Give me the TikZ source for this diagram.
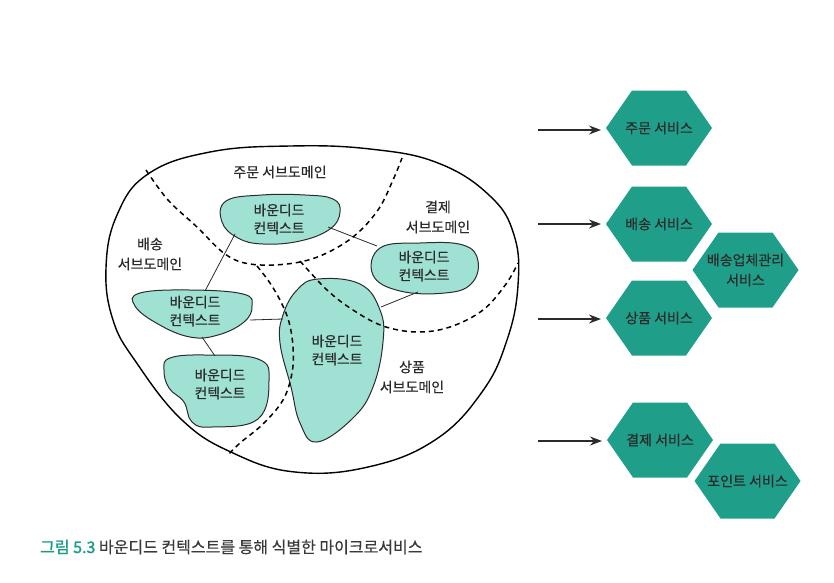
\documentclass[tikz,border=0pt]{standalone}
\usepackage{fontspec}
\setmainfont[FakeBold=0.5]{Noto Sans CJK KR}
\newfontfamily\krbold[FakeBold=1.5]{Noto Sans CJK KR}
\usetikzlibrary{arrows.meta}
\definecolor{ctxfill}{HTML}{9FE2D4}
\definecolor{svcfill}{HTML}{1F9E89}
\definecolor{ink}{HTML}{2B2B2B}
\definecolor{capteal}{HTML}{1A9C86}
\definecolor{capgray}{HTML}{3A3A3A}
\newcommand{\hexsvc}[4]{%
  \fill[svcfill] (#2-53,#3) -- (#2-27,#3-37.5) -- (#2+27,#3-37.5) -- (#2+53,#3) -- (#2+27,#3+37.5) -- (#2-27,#3+37.5) -- cycle;
  \coordinate (#1w) at (#2-53,#3);
  \node[svctext] (#1) at (#2,#3) {#4};}
\begin{document}
\begin{tikzpicture}[x=1pt,y=-1pt,
  outerline/.style={draw=black,line width=1.4pt},
  dashline/.style={draw=black,line width=1.5pt,dash pattern=on 5pt off 4pt},
  ctxshape/.style={fill=ctxfill,draw=ink,line width=1pt},
  ctxtext/.style={align=center,text=ink,font=\fontsize{13.8}{18}\selectfont,inner sep=0pt},
  sublabel/.style={align=center,text=ink,font=\fontsize{14}{20}\selectfont,inner sep=0pt},
  link/.style={draw=ink,line width=0.8pt},
  svctext/.style={align=center,text=ink,font=\fontsize{14}{20}\selectfont,inner sep=0pt},
  arr/.style={draw=ink,line width=1.1pt,-{Stealth[length=12pt,width=9pt]}}]
\useasboundingbox (0,0) rectangle (834,582);

% outer domain
\draw[outerline] plot[smooth cycle, tension=0.7] coordinates {(106,268) (117,215) (148,174) (210,152) (290,146) (370,149) (438,163) (490,196) (514,235) (518,285) (507,340) (482,392) (435,440) (368,467) (295,472) (233,453) (182,420) (136,362) (113,320)};

% bounding contexts
\draw[ctxshape] plot[smooth cycle, tension=0.7] coordinates {(226,201) (262,195) (305,195) (333,199) (340,212) (330,229) (300,241) (263,244) (238,238) (222,222)};
\draw[ctxshape] plot[smooth cycle, tension=0.7] coordinates {(380,248) (420,243) (463,245) (478,261) (471,284) (445,293) (400,291) (373,275)};
\draw[ctxshape] plot[smooth cycle, tension=0.7] coordinates {(140,293) (190,290) (243,294) (252,306) (244,322) (218,335) (190,337) (158,324) (135,306)};
\draw[ctxshape] plot[smooth cycle, tension=0.7] coordinates {(170,358) (205,355) (258,359) (269,380) (258,419) (212,427) (192,422) (184,402) (169,388) (164,370)};
\draw[ctxshape] plot[smooth cycle, tension=0.7] coordinates {(318,279) (360,284) (380,310) (383,342) (373,387) (353,418) (317,442) (300,423) (291,387) (280,343) (283,315) (297,290)};

% links between contexts
\coordinate (c1a) at (235,234);
\coordinate (c3a) at (205,291);
\coordinate (c1b) at (328,227);
\coordinate (c2a) at (377,246);
\coordinate (c3b) at (250,320);
\coordinate (c5a) at (283,319);
\coordinate (c3c) at (202,337);
\coordinate (c4a) at (215,356);
\coordinate (c2b) at (418,292);
\coordinate (c5b) at (381,307);
\draw[link] (c1a) -- (c3a);
\draw[link] (c1b) -- (c2a);
\draw[link] (c3b) -- (c5a);
\draw[link] (c3c) -- (c4a);
\draw[link] (c2b) -- (c5b);

% subdomain borders
\draw[dashline] plot[smooth, tension=0.6] coordinates {(146,170) (168,200) (197,227) (225,254) (250,264) (287,264) (320,256) (353,237) (378,210) (393,180) (402,158)};
\draw[dashline] plot[smooth, tension=0.6] coordinates {(257,266) (270,283) (281,302) (289,322) (293,347) (292,373) (283,400) (263,424) (240,443) (228,455)};
\draw[dashline] plot[smooth, tension=0.6] coordinates {(300,261) (327,290) (353,310) (383,326) (417,332) (450,327) (483,310) (506,284) (518,263)};

% context texts
\node[ctxtext] (t1) at (279,219) {바운디드\\컨텍스트};
\node[ctxtext] (t2) at (424,266) {바운디드\\컨텍스트};
\node[ctxtext] (t3) at (195,311) {바운디드\\컨텍스트};
\node[ctxtext] (t4) at (220,384) {바운디드\\컨텍스트};
\node[ctxtext] (t5) at (337,350) {바운디드\\컨텍스트};

% subdomain labels
\node[sublabel] (s1) at (280,172) {주문 서브도메인};
\node[sublabel] (s2) at (438,217) {결제\\서브도메인};
\node[sublabel] (s3) at (150,254) {배송\\서브도메인};
\node[sublabel] (s4) at (412,377) {상품\\서브도메인};

% services
\hexsvc{h1}{659}{128}{주문 서비스}
\hexsvc{h2}{659}{224}{배송 서비스}
\hexsvc{h3}{745.5}{270}{배송업체관리\\서비스}
\hexsvc{h4}{659}{318}{상품 서비스}
\hexsvc{h5}{660}{440}{결제 서비스}
\hexsvc{h6}{747.5}{481}{포인트 서비스}

\coordinate (a1) at (538,130);
\coordinate (a2) at (538,224);
\coordinate (a4) at (538,319);
\coordinate (a5) at (538,441);
\draw[arr] (a1) -- ([xshift=-5pt]h1w |- a1);
\draw[arr] (a2) -- ([xshift=-5pt]h2w |- a2);
\draw[arr] (a4) -- ([xshift=-5pt]h4w |- a4);
\draw[arr] (a5) -- ([xshift=-5pt]h5w |- a5);

% caption
\node[anchor=west,inner sep=0pt,text=capgray,font=\fontsize{16}{18}\selectfont] (cap) at (40,547) {{\krbold\color{capteal}그림 5.3} 바운디드 컨텍스트를 통해 식별한 마이크로서비스};
\end{tikzpicture}
\end{document}
